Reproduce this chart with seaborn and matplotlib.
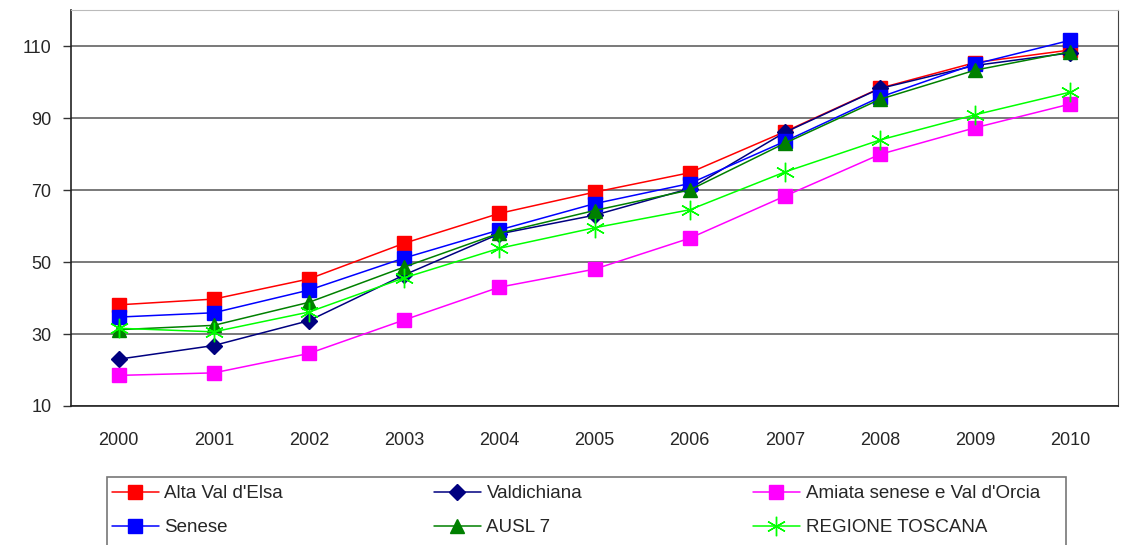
import numpy as np
import pandas as pd
import matplotlib

matplotlib.use("Agg")
import matplotlib.pyplot as plt
import seaborn as sns
from matplotlib.patches import Rectangle

# Years on the x axis
YEARS = ["2000", "2001", "2002", "2003", "2004", "2005",
         "2006", "2007", "2008", "2009", "2010"]

# Values
ALTA_VAL_DELSA = [38.1, 39.7, 45.3, 55.2, 63.5, 69.4, 74.8, 86.2, 98.3, 105.4, 108.9]
VALDICHIANA = [23.0, 26.8, 33.7, 46.4, 57.8, 63.0, 70.4, 86.0, 98.2, 104.6, 108.1]
AMIATA = [18.5, 19.2, 24.6, 33.9, 43.0, 48.0, 56.6, 68.3, 79.9, 87.3, 93.9]
SENESE = [34.7, 35.9, 42.2, 51.1, 58.9, 66.2, 71.8, 83.5, 95.8, 105.0, 111.6]
AUSL_7 = [31.2, 32.4, 38.8, 48.6, 58.0, 64.3, 70.0, 83.0, 95.2, 103.3, 108.4]
REGIONE_TOSCANA = [31.6, 30.6, 36.1, 45.6, 53.8, 59.5, 64.5, 75.0, 83.9, 90.9, 97.2]

SERIES = [
    ("Alta Val d'Elsa", ALTA_VAL_DELSA, "#FF0000", "s", 10),
    ("Valdichiana", VALDICHIANA, "#000080", "D", 8),
    ("Amiata senese e Val d'Orcia", AMIATA, "#FF00FF", "s", 10),
    ("Senese", SENESE, "#0000FF", "s", 10),
    ("AUSL 7", AUSL_7, "#008000", "^", 10),
    ("REGIONE TOSCANA", REGIONE_TOSCANA, "#00FF00", (6, 2, 0), 14),
]

Y_TICKS = [10, 30, 50, 70, 90, 110]

sns.set_style("white")
plt.rcParams["font.family"] = ["Liberation Sans", "DejaVu Sans"]

W, H = 1126, 545
fig = plt.figure(figsize=(W / 100, H / 100), dpi=100)
ax = fig.add_axes([71 / W, 1 - 406 / H, (1118 - 71) / W, (406 - 10) / H])

for name, values, color, marker, size in SERIES:
    sns.lineplot(
        x=YEARS, y=values, ax=ax, color=color, linewidth=1.1,
        marker=marker, markersize=size, markeredgecolor=color,
        markeredgewidth=1.0, label=name, sort=False,
    )

# Axis ranges and ticks
ax.set_ylim(10, 120)
ax.set_xlim(-0.5, len(YEARS) - 0.5)
ax.set_yticks(Y_TICKS)
ax.set_yticklabels([str(t) for t in Y_TICKS], fontsize=13)
ax.set_xticks(range(len(YEARS)))
ax.set_xticklabels(YEARS, fontsize=13)
ax.set_xticks(np.arange(len(YEARS) + 1) - 0.5, minor=True)
ax.tick_params(axis="x", which="major", length=0, pad=19)
ax.tick_params(axis="x", which="minor", length=6, width=1, color="#333333",
               direction="out")
ax.tick_params(axis="y", length=6, width=1, color="#333333", direction="out",
               left=True, pad=8)
ax.set_xlabel("")
ax.set_ylabel("")

# Horizontal grid only
ax.yaxis.grid(True, color="#555555", linewidth=1.1)
ax.xaxis.grid(False)
ax.set_axisbelow(True)
for side in ["left", "bottom"]:
    ax.spines[side].set_color("#222222")
    ax.spines[side].set_linewidth(1.2)
ax.spines["top"].set_color("#BBBBBB")
ax.spines["right"].set_color("#444444")

# Legend below the chart: three columns, two rows, inside one grey box
handles, labels = ax.get_legend_handles_labels()
ax.get_legend().remove()
columns = [[0, 3], [1, 4], [2, 5]]
col_x = [112, 434, 753]
for x0, idx in zip(col_x, columns):
    fig.legend(
        [handles[i] for i in idx], [labels[i] for i in idx],
        loc="upper left", bbox_to_anchor=(x0 / W, 1 - 485 / H),
        frameon=False, fontsize=13.5, handlelength=2.5, handletextpad=0.3,
        labelspacing=0.9, borderpad=0, borderaxespad=0,
    )
fig.patches.append(Rectangle(
    (107 / W, 1 - 560 / H), (1066 - 107) / W, (560 - 477) / H,
    transform=fig.transFigure, facecolor="none", edgecolor="#777777",
    linewidth=1.2,
))

fig.savefig("out.png", dpi=100)
